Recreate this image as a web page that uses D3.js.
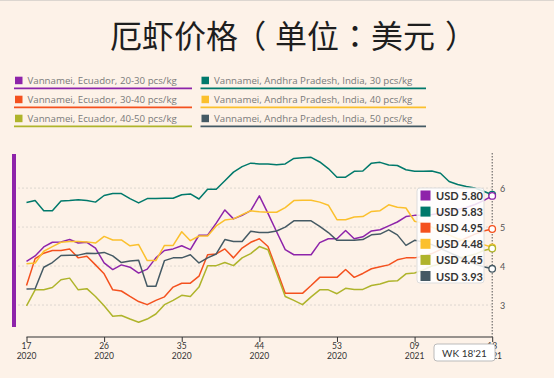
<!DOCTYPE html>
<html><head><meta charset="utf-8">
<script src="https://cdn.jsdelivr.net/npm/d3@7"></script>
<style>
html,body{margin:0;padding:0;background:#FDF2E8;}
svg{display:block;}
.palt{font-feature-settings:"palt" 1;}
</style></head>
<body>
<svg id="c" width="554" height="378"></svg>
<script>
const weeks = ["17'20","18'20","19'20","20'20","21'20","22'20","23'20","24'20","25'20","26'20","27'20","28'20","29'20","30'20","31'20","32'20","33'20","34'20","35'20","36'20","37'20","38'20","39'20","40'20","41'20","42'20","43'20","44'20","45'20","46'20","47'20","48'20","49'20","50'20","51'20","52'20","53'20","01'21","02'21","03'21","04'21","05'21","06'21","07'21","08'21","09'21","10'21","11'21","12'21","13'21","14'21","15'21","16'21","17'21","18'21"];
const tickWeeks = ["17'20","26'20","35'20","44'20","53'20","09'21","18'21"];
const tickTop = ["17","26","35","44","53","09","18"];
const tickBottom = ["2020","2020","2020","2020","2020","2021","2021"];
const yTicks = [3,4,5,6];

const seriesNames = ["Vannamei, Ecuador, 20-30 pcs/kg","Vannamei, Andhra Pradesh, India, 30 pcs/kg","Vannamei, Ecuador, 30-40 pcs/kg","Vannamei, Andhra Pradesh, India, 40 pcs/kg","Vannamei, Ecuador, 40-50 pcs/kg","Vannamei, Andhra Pradesh, India, 50 pcs/kg"];
const seriesColors = ["#8E24AA","#00796B","#F4511E","#FBC02D","#AFB42B","#455A64"];

const ecuador2030 = [4.12,4.26,4.49,4.61,4.62,4.68,4.59,4.61,4.46,4.08,3.91,4.03,3.97,3.82,3.92,4.21,4.40,4.44,4.52,4.42,4.79,4.79,5.10,5.44,5.21,5.30,5.42,5.80,5.35,4.88,4.42,4.29,4.29,4.29,4.60,4.70,4.70,4.91,4.70,4.75,4.90,4.93,5.03,5.13,5.27,5.30,5.30,5.32,5.35,5.40,5.45,5.50,5.58,5.68,5.80];
const india30 = [5.63,5.68,5.42,5.42,5.67,5.68,5.70,5.68,5.64,5.81,5.86,5.86,5.73,5.62,5.73,5.73,5.74,5.74,5.83,5.85,5.72,5.97,5.97,6.19,6.41,6.55,6.64,6.62,6.62,6.60,6.62,6.76,6.78,6.79,6.67,6.50,6.28,6.28,6.43,6.44,6.64,6.66,6.59,6.58,6.47,6.43,6.43,6.44,6.38,6.17,6.09,6.04,6.00,5.92,5.83];
const ecuador3040 = [3.50,4.19,4.33,4.40,4.40,4.44,4.21,4.25,4.03,3.80,3.39,3.36,3.22,3.09,3.01,3.12,3.21,3.46,3.56,3.56,3.74,4.29,4.31,4.44,4.21,4.46,4.61,4.70,4.50,3.91,3.30,3.30,3.30,3.50,3.71,3.71,3.71,3.91,3.71,3.81,3.93,3.98,4.03,4.16,4.21,4.21,4.25,4.32,4.42,4.52,4.62,4.72,4.82,4.90,4.95];
const india40 = [4.06,4.08,4.38,4.50,4.61,4.63,4.63,4.62,4.59,4.76,4.67,4.67,4.52,4.55,4.14,4.14,4.53,4.53,4.88,4.65,4.77,4.77,5.03,5.18,5.21,5.32,5.42,5.39,5.38,5.38,5.50,5.68,5.69,5.69,5.64,5.56,5.19,5.19,5.26,5.27,5.40,5.42,5.57,5.51,5.49,5.15,5.10,5.00,4.90,4.80,4.70,4.65,4.60,4.55,4.48];
const ecuador4050 = [2.98,3.39,3.39,3.45,3.65,3.69,3.39,3.42,3.22,2.98,2.71,2.73,2.64,2.56,2.64,2.77,3.01,3.12,3.25,3.22,3.46,4.01,4.01,4.09,4.01,4.21,4.32,4.50,4.42,3.82,3.22,3.12,3.01,3.21,3.39,3.39,3.29,3.43,3.40,3.40,3.50,3.54,3.61,3.62,3.80,3.82,3.90,4.00,4.05,4.10,4.20,4.25,4.30,4.40,4.45];
const india50 = [3.41,3.42,3.97,4.09,4.27,4.28,4.28,4.33,4.32,4.35,4.26,4.09,4.13,4.15,3.48,3.48,4.14,4.21,4.21,4.29,4.08,4.21,4.31,4.68,4.63,4.63,4.89,4.86,4.86,4.90,5.00,5.16,5.16,5.16,5.02,4.86,4.66,4.66,4.66,4.68,4.80,4.82,4.93,4.80,4.53,4.66,4.62,4.55,4.45,4.35,4.25,4.15,4.05,3.98,3.93];

const tooltipLabels = ["USD 5.80","USD 5.83","USD 4.95","USD 4.48","USD 4.45","USD 3.93"];
const weekLabel = "WK 18'21";
const titleParts = ["厄虾价格","（","单位：美元","）"];

const allSeries = [ecuador2030, india30, ecuador3040, india40, ecuador4050, india50];

const svg = d3.select("#c");
const W = 554, H = 378;
const x = d3.scalePoint().domain(weeks).range([26.5, 492.2]);
const y = d3.scaleLinear().domain([2.18, 6.9]).range([337, 153]);

svg.append("line").attr("x1",0).attr("x2",W).attr("y1",0.5).attr("y2",0.5).attr("stroke","#dcd6d0");

// title: brackets set proportional and padded so they sit centred
const tTitle = svg.append("text").attr("x", 110).attr("y", 34)
  .attr("dominant-baseline","central")
  .style("font-family","'Noto Sans CJK TC'").style("font-size","32px").style("fill","#1e1e1e");
const titleDx = [0,11,10,11];
titleParts.forEach((p,i)=>{
  const ts = tTitle.append("tspan").text(p);
  if (i===1 || i===3) ts.attr("class","palt");
  if (titleDx[i]) ts.attr("dx",titleDx[i]);
});

// legend
const leg = svg.append("g");
seriesNames.forEach((n,i)=>{
  const col = i%2, row = Math.floor(i/2);
  const lx = col===0 ? 15 : 201.5;
  const ly = 80.5 + row*19;
  const ulEnd = col===0 ? 192 : 426;
  leg.append("rect").attr("x",lx).attr("y",ly-3.8).attr("width",7.5).attr("height",7.5).attr("fill",seriesColors[i]);
  leg.append("text").attr("x",lx+12.5).attr("y",ly+3.4)
    .style("font-family","'Open Sans'").style("font-size","9.7px").style("fill","#7a7a7a").text(n);
  leg.append("line").attr("x1",lx-1).attr("x2",ulEnd).attr("y1",ly+7.8).attr("y2",ly+7.8)
    .attr("stroke",seriesColors[i]).attr("stroke-width",1.8);
});

// left bar
svg.append("rect").attr("x",12).attr("y",154).attr("width",4).attr("height",173).attr("fill","#8E24AA");

// gridlines
svg.append("g").selectAll("line").data(yTicks).join("line")
  .attr("x1",18).attr("x2",492).attr("y1",d=>y(d)).attr("y2",d=>y(d))
  .attr("stroke","#d6d0ca").attr("stroke-dasharray","2,2").attr("stroke-width",0.8);

// y labels
svg.append("g").selectAll("text").data(yTicks).join("text")
  .attr("x",500).attr("y",d=>y(d)).attr("dominant-baseline","central")
  .style("font-family","Lato").style("font-size","9px").style("fill","#555").text(d=>d);

// x axis
const xAxis = d3.axisBottom(x).tickValues(tickWeeks).tickSize(5).tickFormat("");
const gx = svg.append("g").attr("transform","translate(0,337)").call(xAxis);
gx.select(".domain").attr("stroke","#333").attr("stroke-width",1.2).attr("d","M26.5,0H492.2");
gx.selectAll(".tick line").attr("stroke","#333");
tickWeeks.forEach((w,i)=>{
  svg.append("text").attr("x",x(w)).attr("y",349).attr("text-anchor","middle")
    .style("font-family","Lato").style("font-size","8.5px").style("fill","#333").text(tickTop[i]);
  svg.append("text").attr("x",x(w)).attr("y",359).attr("text-anchor","middle")
    .style("font-family","Lato").style("font-size","8.5px").style("fill","#333").text(tickBottom[i]);
});

// lines
const line = d3.line().x((d,i)=>x(weeks[i])).y(d=>y(d));
allSeries.forEach((s,i)=>{
  svg.append("path").datum(s).attr("d",line).attr("fill","none")
    .attr("stroke",seriesColors[i]).attr("stroke-width",1.5).attr("stroke-linejoin","round");
});

// hover line
const lastW = weeks[weeks.length-1];
svg.append("line").attr("x1",x(lastW)).attr("x2",x(lastW)).attr("y1",153).attr("y2",337)
  .attr("stroke","#555").attr("stroke-dasharray","1.5,1.5").attr("stroke-width",1);

// end markers
[1,0,2,3,4,5].forEach(i=>{
  const s = allSeries[i];
  svg.append("circle").attr("cx",x(lastW)).attr("cy",y(s[s.length-1])).attr("r",3.3)
    .attr("fill","#fff").attr("stroke",seriesColors[i]).attr("stroke-width",1.3);
});

// tooltip
const tt = svg.append("g");
tt.append("rect").attr("x",417).attr("y",188).attr("width",67).attr("height",95).attr("rx",3)
  .attr("fill","#fff").attr("fill-opacity",0.85).attr("stroke","#ddd");
tooltipLabels.forEach((t,i)=>{
  const ry = 195.5 + i*16.1;
  tt.append("rect").attr("x",420.5).attr("y",ry-5).attr("width",10).attr("height",10).attr("fill",seriesColors[i]);
  tt.append("text").attr("x",436).attr("y",ry).attr("dominant-baseline","central")
    .style("font-family","Lato").style("font-weight","bold").style("font-size","11px").style("fill","#333").text(t);
});

// week box (covers the last tick label, showing the hovered week)
const wb = svg.append("g");
wb.append("rect").attr("x",434).attr("y",344).attr("width",61).attr("height",17).attr("rx",3)
  .attr("fill","#fff").attr("stroke","#bbb");
wb.append("text").attr("x",464.5).attr("y",352.8).attr("text-anchor","middle").attr("dominant-baseline","central")
  .style("font-family","Lato").style("font-size","10px").style("fill","#333").text(weekLabel);
</script>
</body></html>
